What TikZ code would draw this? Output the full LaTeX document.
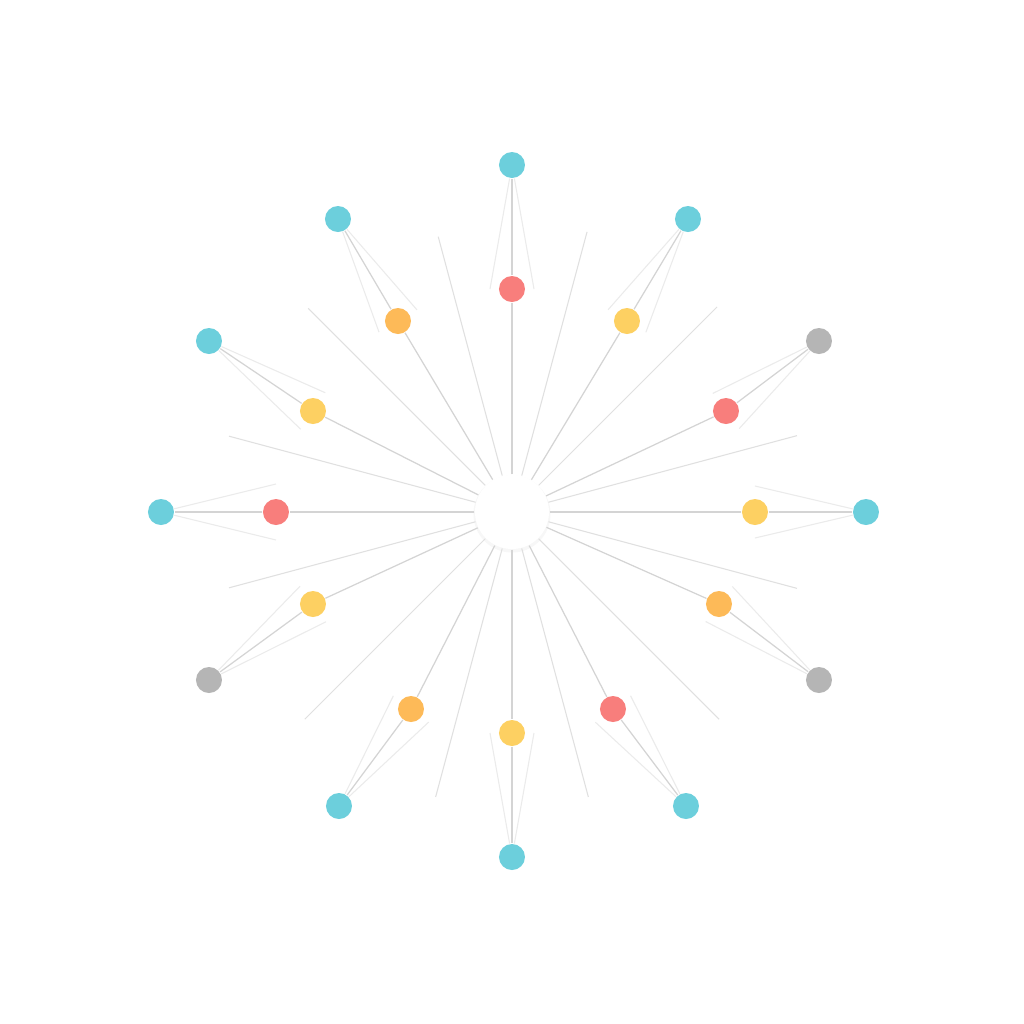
\documentclass[tikz,border=0pt]{standalone}
\usepackage{tikz}
\usetikzlibrary{calc}
\usepackage{xcolor}

\definecolor{pincyan}{HTML}{6CCFDC}
\definecolor{pinyellow}{HTML}{FDD062}
\definecolor{pinorange}{HTML}{FDBA58}
\definecolor{pinred}{HTML}{F87E7C}
\definecolor{pingray}{HTML}{B5B5B5}

\tikzset{
  pin/.style={circle, inner sep=0pt, minimum size=2.6mm},
  hub/.style={circle, inner sep=0pt, minimum size=7.4mm, fill=white},
  spoke/.style={draw=black!17, line width=0.35pt},
  leaf/.style={draw=black!8, line width=0.3pt},
  ray/.style={draw=black!12, line width=0.3pt}
}

\begin{document}
\begin{tikzpicture}
  \useasboundingbox[fill=white] (-5.12,-5.12) rectangle (5.12,5.12);

  % centre
  \fill[black!3] (0,-0.02) circle (3.85mm);
  \node[hub] (c) at (0,0) {};

  % free rays
  \coordinate (f1) at (75:2.9);
  \coordinate (f2) at (45:2.9);
  \coordinate (f3) at (15:2.95);
  \coordinate (f4) at (-15:2.95);
  \coordinate (f5) at (-45:2.93);
  \coordinate (f6) at (-75:2.95);
  \coordinate (f7) at (-105:2.95);
  \coordinate (f8) at (-135:2.93);
  \coordinate (f9) at (-165:2.93);
  \coordinate (f10) at (165:2.93);
  \coordinate (f11) at (135:2.88);
  \coordinate (f12) at (105:2.85);
  \draw[ray] (c) -- (f1);  \draw[ray] (c) -- (f2);  \draw[ray] (c) -- (f3);
  \draw[ray] (c) -- (f4);  \draw[ray] (c) -- (f5);  \draw[ray] (c) -- (f6);
  \draw[ray] (c) -- (f7);  \draw[ray] (c) -- (f8);  \draw[ray] (c) -- (f9);
  \draw[ray] (c) -- (f10); \draw[ray] (c) -- (f11); \draw[ray] (c) -- (f12);

  % inner pins
  \node[pin, fill=pinred]    (i1)  at (0,2.23) {};
  \node[pin, fill=pinyellow] (i2)  at (1.15,1.91) {};
  \node[pin, fill=pinred]    (i3)  at (2.14,1.01) {};
  \node[pin, fill=pinyellow] (i4)  at (2.43,0) {};
  \node[pin, fill=pinorange] (i5)  at (2.07,-0.92) {};
  \node[pin, fill=pinred]    (i6)  at (1.01,-1.97) {};
  \node[pin, fill=pinyellow] (i7)  at (0,-2.21) {};
  \node[pin, fill=pinorange] (i8)  at (-1.01,-1.97) {};
  \node[pin, fill=pinyellow] (i9)  at (-1.99,-0.92) {};
  \node[pin, fill=pinred]    (i10) at (-2.36,0) {};
  \node[pin, fill=pinyellow] (i11) at (-1.99,1.01) {};
  \node[pin, fill=pinorange] (i12) at (-1.14,1.91) {};

  % outer pins
  \node[pin, fill=pincyan] (o1)  at (0,3.47) {};
  \node[pin, fill=pincyan] (o2)  at (1.76,2.93) {};
  \node[pin, fill=pingray] (o3)  at (3.07,1.71) {};
  \node[pin, fill=pincyan] (o4)  at (3.54,0) {};
  \node[pin, fill=pingray] (o5)  at (3.07,-1.68) {};
  \node[pin, fill=pincyan] (o6)  at (1.74,-2.94) {};
  \node[pin, fill=pincyan] (o7)  at (0,-3.45) {};
  \node[pin, fill=pincyan] (o8)  at (-1.73,-2.94) {};
  \node[pin, fill=pingray] (o9)  at (-3.03,-1.68) {};
  \node[pin, fill=pincyan] (o10) at (-3.51,0) {};
  \node[pin, fill=pincyan] (o11) at (-3.03,1.71) {};
  \node[pin, fill=pincyan] (o12) at (-1.74,2.93) {};

  % spokes through the pins
  \draw[spoke] (c) -- (i1) -- (o1);
  \draw[spoke] (c) -- (i2) -- (o2);
  \draw[spoke] (c) -- (i3) -- (o3);
  \draw[spoke] (c) -- (i4) -- (o4);
  \draw[spoke] (c) -- (i5) -- (o5);
  \draw[spoke] (c) -- (i6) -- (o6);
  \draw[spoke] (c) -- (i7) -- (o7);
  \draw[spoke] (c) -- (i8) -- (o8);
  \draw[spoke] (c) -- (i9) -- (o9);
  \draw[spoke] (c) -- (i10) -- (o10);
  \draw[spoke] (c) -- (i11) -- (o11);
  \draw[spoke] (c) -- (i12) -- (o12);

  % leaves beside the outer spokes
  \draw[leaf] ($(i1)!2.2mm!90:(o1)$) -- (o1) -- ($(i1)!2.2mm!-90:(o1)$);
  \draw[leaf] ($(i2)!2.2mm!90:(o2)$) -- (o2) -- ($(i2)!2.2mm!-90:(o2)$);
  \draw[leaf] ($(i3)!2.2mm!90:(o3)$) -- (o3) -- ($(i3)!2.2mm!-90:(o3)$);
  \draw[leaf] ($(i4)!2.6mm!90:(o4)$) -- (o4) -- ($(i4)!2.6mm!-90:(o4)$);
  \draw[leaf] ($(i5)!2.2mm!90:(o5)$) -- (o5) -- ($(i5)!2.2mm!-90:(o5)$);
  \draw[leaf] ($(i6)!2.2mm!90:(o6)$) -- (o6) -- ($(i6)!2.2mm!-90:(o6)$);
  \draw[leaf] ($(i7)!2.2mm!90:(o7)$) -- (o7) -- ($(i7)!2.2mm!-90:(o7)$);
  \draw[leaf] ($(i8)!2.2mm!90:(o8)$) -- (o8) -- ($(i8)!2.2mm!-90:(o8)$);
  \draw[leaf] ($(i9)!2.2mm!90:(o9)$) -- (o9) -- ($(i9)!2.2mm!-90:(o9)$);
  \draw[leaf] ($(i10)!2.8mm!90:(o10)$) -- (o10) -- ($(i10)!2.8mm!-90:(o10)$);
  \draw[leaf] ($(i11)!2.2mm!90:(o11)$) -- (o11) -- ($(i11)!2.2mm!-90:(o11)$);
  \draw[leaf] ($(i12)!2.2mm!90:(o12)$) -- (o12) -- ($(i12)!2.2mm!-90:(o12)$);

\end{tikzpicture}
\end{document}
